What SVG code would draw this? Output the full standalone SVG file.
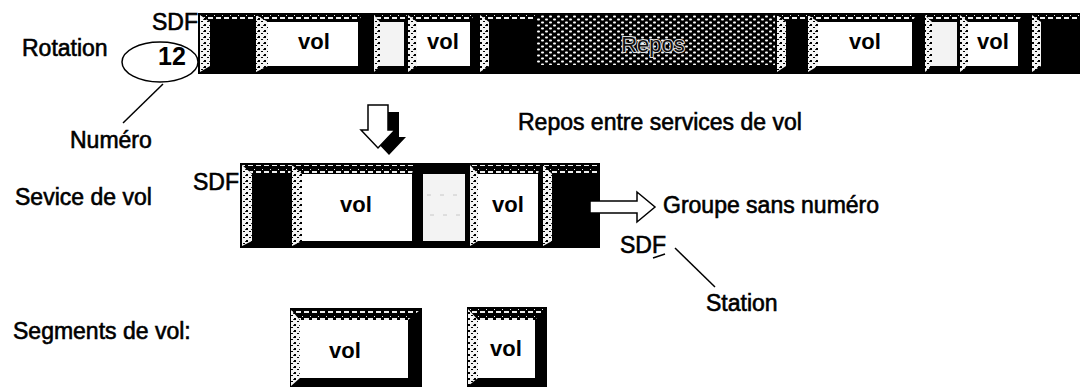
<svg xmlns="http://www.w3.org/2000/svg" width="1080" height="388" viewBox="0 0 1080 388">
<defs>
<style>
.lbl{font-family:"Liberation Sans",Arial,Helvetica,sans-serif;font-size:23px;fill:#000;stroke:#000;stroke-width:0.6}
.vol{font-family:"Liberation Sans",Arial,Helvetica,sans-serif;font-size:22px;font-weight:bold;fill:#000;text-anchor:middle}
.bar{fill:#000}
.bev{fill:url(#spk)}
.bevT{fill:url(#spkT)}
.white{fill:#fff}
.light{fill:#f3f3f3}
.line{stroke:#000;stroke-width:1.5;fill:none}
.faint{stroke:#c8c8c8;stroke-width:1;stroke-dasharray:4 9;fill:none}
</style>
<pattern id="spk" width="6" height="6" patternUnits="userSpaceOnUse">
<rect width="6" height="6" fill="#f4f4f4"/>
<rect x="0" y="0" width="2" height="2" fill="#000"/>
<rect x="3" y="3" width="2" height="1" fill="#000"/>
<rect x="5" y="1" width="1" height="1" fill="#333"/>
</pattern>
<pattern id="spkT" width="8" height="7" patternUnits="userSpaceOnUse">
<rect width="8" height="7" fill="#000"/>
<rect x="0" y="3" width="5" height="2" fill="#eee"/>
<rect x="6" y="1" width="1" height="1" fill="#eee"/>
</pattern>
<pattern id="dots" width="8" height="6" patternUnits="userSpaceOnUse">
<rect width="8" height="6" fill="#000"/>
<rect x="1" y="0.5" width="3" height="2" rx="1" fill="#fff"/>
<rect x="5" y="3.5" width="3" height="2" rx="1" fill="#fff"/>
</pattern>
</defs>

<g id="rotation">
<rect class="bar" x="198" y="13" width="882" height="61"/>
<!-- A dark -->
<polygon class="bevT" points="200,15 256,15 252,22 210,22"/>
<polygon class="bev" points="200,15 210,22 210,66 200,72"/>
<!-- B vol -->
<polygon class="bevT" points="256,15 362,15 358,22 268,22"/>
<polygon class="bev" points="256,15 268,22 268,66 256,72"/>
<rect class="white" x="268" y="22" width="90" height="44"/>
<text class="vol" x="314" y="49">vol</text>
<!-- C light -->
<polygon class="bevT" points="374,15 407,15 404,22 380,22"/>
<polygon class="bev" points="374,15 380,22 380,66 374,72"/>
<rect class="light" x="380" y="22" width="24" height="44"/>
<!-- D vol -->
<polygon class="bevT" points="408,15 474,15 470,22 417,22"/>
<polygon class="bev" points="408,15 417,22 417,66 408,72"/>
<rect class="white" x="417" y="22" width="53" height="44"/>
<text class="vol" x="443" y="49">vol</text>
<!-- E dark -->
<polygon class="bevT" points="480,15 535,15 533,22 489,22"/>
<polygon class="bev" points="480,15 489,22 489,66 480,72"/>
<!-- F repos -->
<rect x="537" y="15" width="238" height="50" fill="url(#dots)"/>
<text x="653" y="52" text-anchor="middle" style="font-family:'Liberation Sans',Arial,sans-serif;font-size:22px;fill:#111;stroke:#ddd;stroke-width:2;paint-order:stroke">Repos</text>
<!-- G dark -->
<polygon class="bevT" points="777,15 808,15 806,22 786,22"/>
<polygon class="bev" points="777,15 786,22 786,66 777,72"/>
<!-- H vol -->
<polygon class="bevT" points="808,15 916,15 912,22 818,22"/>
<polygon class="bev" points="808,15 818,22 818,66 808,72"/>
<rect class="white" x="818" y="22" width="94" height="44"/>
<text class="vol" x="865" y="49">vol</text>
<!-- I light -->
<polygon class="bevT" points="925,15 959,15 957,22 932,22"/>
<polygon class="bev" points="925,15 932,22 932,66 925,72"/>
<rect class="light" x="932" y="22" width="25" height="44"/>
<!-- J vol -->
<polygon class="bevT" points="960,15 1022,15 1018,22 968,22"/>
<polygon class="bev" points="960,15 968,22 968,66 960,72"/>
<rect class="white" x="968" y="22" width="50" height="44"/>
<text class="vol" x="993" y="49">vol</text>
<!-- K dark -->
<polygon class="bevT" points="1032,15 1080,15 1080,22 1041,22"/>
<polygon class="bev" points="1032,15 1041,22 1041,66 1032,72"/>
</g>

<g id="numero-ellipse">
<ellipse cx="160" cy="62" rx="38" ry="20" fill="none" stroke="#000" stroke-width="1.5"/>
<text x="172" y="65" text-anchor="middle" style="font-family:'Liberation Sans',Arial,sans-serif;font-size:25px;font-weight:bold">12</text>
</g>

<g id="service">
<rect class="bar" x="240" y="163" width="360" height="85"/>
<polygon class="bevT" points="242,165 292,165 290,174 252,174"/>
<polygon class="bev" points="242,165 252,174 252,241 242,246"/>
<polygon class="bevT" points="292,165 414,165 412,174 302,174"/>
<polygon class="bev" points="292,165 302,174 302,241 292,246"/>
<rect class="white" x="302" y="174" width="110" height="67"/>
<text class="vol" x="356" y="212">vol</text>
<rect class="light" x="423" y="174" width="42" height="67"/>
<line class="faint" x1="427" y1="195" x2="462" y2="195"/>
<line class="faint" x1="430" y1="215" x2="462" y2="215"/>
<polygon class="bevT" points="470,165 540,165 538,174 478,174"/>
<polygon class="bev" points="470,165 478,174 478,241 470,246"/>
<rect class="white" x="478" y="174" width="60" height="67"/>
<text class="vol" x="508" y="212">vol</text>
<polygon class="bevT" points="543,165 598,165 598,174 552,174"/>
<polygon class="bev" points="543,165 552,174 552,241 543,246"/>
</g>

<g id="segment1">
<rect class="bar" x="290" y="308" width="132" height="79"/>
<polygon class="bevT" points="291,310 420,310 408,320 300,320"/>
<polygon class="bev" points="291,310 300,320 300,378 291,386"/>
<rect class="white" x="300" y="320" width="108" height="58"/>
<text class="vol" x="345" y="358">vol</text>
</g>

<g id="segment2">
<rect class="bar" x="467" y="307" width="80" height="80"/>
<polygon class="bevT" points="468,309 545,309 535,320 478,320"/>
<polygon class="bev" points="468,309 478,320 478,378 468,386"/>
<rect class="white" x="478" y="320" width="57" height="58"/>
<text class="vol" x="506" y="356">vol</text>
</g>

<g id="labels">
<text class="lbl" x="152" y="30">SDF</text>
<text class="lbl" x="22" y="56">Rotation</text>
<text class="lbl" x="70" y="148">Numéro</text>
<text class="lbl" x="518" y="130">Repos entre services de vol</text>
<text class="lbl" x="193" y="190">SDF</text>
<text class="lbl" x="15" y="205">Sevice de vol</text>
<text class="lbl" x="663" y="213">Groupe sans numéro</text>
<text class="lbl" x="620" y="253">SDF</text>
<text class="lbl" x="706" y="311">Station</text>
<text class="lbl" x="13" y="339">Segments de vol:</text>
</g>

<g id="connectors">
<line class="line" x1="163" y1="84" x2="123" y2="123"/>
<line class="line" x1="675" y1="248" x2="715" y2="287"/>
<line class="line" x1="653" y1="258" x2="665" y2="254"/>
<g id="down-arrow">
<polygon points="379,112 399,112 399,137 406,137 389,155 372,137 379,137" fill="#000"/>
<polygon points="368,105 388,105 388,130 395,130 378,148 361,130 368,130" fill="#fff" stroke="#000" stroke-width="1.5"/>
</g>
<polygon id="right-arrow" points="590,201 637,201 637,192 655,207 637,222 637,213 590,213" fill="#fff" stroke="#000" stroke-width="1.5"/>
</g>
</svg>
